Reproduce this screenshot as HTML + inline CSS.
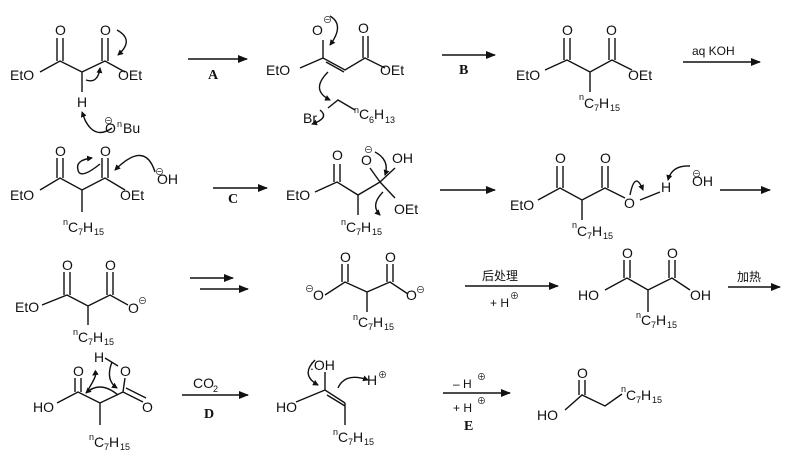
<!DOCTYPE html>
<html><head><meta charset="utf-8"><style>
html,body{margin:0;padding:0;background:#fff;}
svg{display:block}
text{font-family:"Liberation Sans","Noto Sans CJK SC",sans-serif;font-size:14px;fill:#111}
.s{font-size:9px}
.b{font-family:"Liberation Serif",serif;font-weight:bold;font-size:14px}
</style></head><body>
<svg width="793" height="464" viewBox="0 0 793 464" xmlns="http://www.w3.org/2000/svg">
<defs>
<marker id="ah" markerWidth="10" markerHeight="8" refX="9" refY="4" orient="auto" markerUnits="userSpaceOnUse"><path d="M0,0 L10,4 L0,8 Z" fill="#111"/></marker>
<marker id="sh" markerWidth="6" markerHeight="6" refX="5" refY="3" orient="auto" markerUnits="userSpaceOnUse"><path d="M0,0 L6,3 L0,6 Z" fill="#111"/></marker>
</defs>
<g stroke="#111" stroke-width="1.4" fill="none">
<line x1="188" y1="59" x2="247" y2="59" marker-end="url(#ah)"/>
<line x1="442" y1="55" x2="495" y2="55" marker-end="url(#ah)"/>
<line x1="683" y1="62" x2="760" y2="62" marker-end="url(#ah)"/>
<line x1="213" y1="188" x2="267" y2="188" marker-end="url(#ah)"/>
<line x1="440" y1="190" x2="495" y2="190" marker-end="url(#ah)"/>
<line x1="720" y1="190" x2="770" y2="190" marker-end="url(#ah)"/>
<line x1="190" y1="278" x2="233" y2="278" marker-end="url(#ah)"/>
<line x1="200" y1="289" x2="248" y2="289" marker-end="url(#ah)"/>
<line x1="465" y1="286" x2="558" y2="286" marker-end="url(#ah)"/>
<line x1="728" y1="287" x2="780" y2="287" marker-end="url(#ah)"/>
<line x1="182" y1="395" x2="248" y2="395" marker-end="url(#ah)"/>
<line x1="443" y1="393" x2="510" y2="393" marker-end="url(#ah)"/>

<path d="M40,72 L60,61 L82,72 L105,61 L125,72 M82,72 L82,92"/>
<path d="M57,61 V38 M63,61 V38 M102,61 V38 M108,61 V38"/>
<path d="M117,30 Q135,40 118,55" marker-end="url(#sh)"/>
<path d="M86,80 Q98,84 100,68" marker-end="url(#sh)"/>
<path d="M112,128 Q95,140 85,120 L82,112" marker-end="url(#sh)"/>
<path d="M300,68 L323,58 L345,70 L365,58 L385,68 M323,58 V40 M363,58 V36 M368,58 V36 M326,62 L344,72"/>
<path d="M330,16 Q345,25 330,45" marker-end="url(#sh)"/>
<path d="M328,72 Q310,90 330,100" marker-end="url(#sh)"/>
<path d="M328,108 L338,100 L355,110"/>
<path d="M320,110 Q330,118 312,124" marker-end="url(#sh)"/>
<path d="M545,70 L567,60 L590,72 L612,60 L632,70 M590,72 V92 M564,60 V38 M570,60 V38 M609,60 V38 M615,60 V38"/>

<path d="M40,190 L60,178 L82,190 L105,178 L125,190 M82,190 V212 M57,178 V158 M63,178 V158 M102,178 V158 M108,178 V158"/>
<path d="M100,164 Q80,180 78,170 Q75,160 92,158" marker-end="url(#sh)"/>
<path d="M155,172 Q145,140 115,170" marker-end="url(#sh)"/>
<path d="M315,192 L337,182 L358,195 L380,182 L395,198 M358,195 V215 M334,182 V164 M340,182 V164 M380,182 L370,168 M380,182 L395,168"/>
<path d="M375,152 Q390,160 385,175" marker-end="url(#sh)"/>
<path d="M383,192 Q370,205 380,215" marker-end="url(#sh)"/>
<path d="M538,200 L560,188 L582,200 L605,188 L625,198 M582,200 V220 M557,188 V166 M563,188 V166 M602,188 V166 M608,188 V166 M640,200 L660,192"/>
<path d="M630,195 Q635,170 643,190" marker-end="url(#sh)"/>
<path d="M690,166 Q672,165 668,180" marker-end="url(#sh)"/>

<path d="M42,305 L67,295 L88,306 L110,295 L128,305 M88,306 V325 M64,295 V272 M70,295 V272 M107,295 V272 M113,295 V272"/>
<path d="M325,295 L345,282 L367,292 L390,282 L408,294 M367,292 V312 M342,282 V264 M348,282 V264 M387,282 V264 M393,282 V264"/>
<path d="M605,290 L627,278 L648,290 L672,278 L690,290 M648,290 V312 M624,278 V260 M630,278 V260 M669,278 V260 M675,278 V260"/>

<path d="M57,403 L78,392 L100,403 L123,392 L143,402 M126,388 L146,398 M100,403 V425 M75,392 V378 M81,392 V378 M123,392 L125,378 M105,358 L118,366"/>
<path d="M88,390 Q100,370 93,375" marker-end="url(#sh)"/>
<path d="M112,362 Q105,380 117,388" marker-end="url(#sh)"/>
<path d="M118,395 Q100,380 86,393" marker-end="url(#sh)"/>
<path d="M296,402 L325,390 L345,403 M327,395 L345,406 M345,403 V425 M325,390 V372"/>
<path d="M315,360 Q300,375 318,385" marker-end="url(#sh)"/>
<path d="M338,388 Q345,372 368,380" marker-end="url(#sh)"/>
<path d="M565,410 L582,395 L605,406 L622,394 M579,395 V380 M585,395 V380"/>
</g>

<text x="55" y="35">O</text><text x="100" y="35">O</text>
<text x="10" y="80">EtO</text><text x="118" y="80">OEt</text>
<text x="77" y="107">H</text>
<text x="105" y="133">O</text><text x="117" y="127" class="s">n</text><text x="123" y="133">Bu</text>
<text x="104" y="124" class="s">⊖</text>
<text x="208" y="79" class="b">A</text>

<text x="312" y="35">O</text><text x="323" y="23" class="s">⊖</text><text x="358" y="33">O</text>
<text x="266" y="75">EtO</text><text x="380" y="75">OEt</text>
<text x="303" y="123">Br</text><text x="354" y="113" class="s">n</text><text x="359" y="119">C</text><text x="369" y="123" class="s">6</text><text x="374" y="119">H</text><text x="385" y="123" class="s">13</text>
<text x="459" y="74" class="b">B</text>

<text x="562" y="35">O</text><text x="606" y="35">O</text>
<text x="516" y="80">EtO</text><text x="628" y="80">OEt</text>
<text x="579" y="100" class="s">n</text><text x="584" y="108">C</text><text x="594" y="111" class="s">7</text><text x="599" y="108">H</text><text x="610" y="111" class="s">15</text>
<text x="692" y="55" style="font-size:12px">aq KOH</text>

<text x="55" y="156">O</text><text x="100" y="156">O</text>
<text x="10" y="200">EtO</text><text x="120" y="200">OEt</text>
<text x="155" y="175" class="s">⊖</text><text x="157" y="184">OH</text>
<text x="63" y="225" class="s">n</text><text x="68" y="232">C</text><text x="78" y="235" class="s">7</text><text x="83" y="232">H</text><text x="94" y="235" class="s">15</text>
<text x="228" y="203" class="b">C</text>

<text x="332" y="160">O</text><text x="361" y="165">O</text><text x="364" y="153" class="s">⊖</text><text x="392" y="163">OH</text>
<text x="286" y="200">EtO</text><text x="394" y="214">OEt</text>
<text x="341" y="225" class="s">n</text><text x="346" y="232">C</text><text x="356" y="235" class="s">7</text><text x="361" y="232">H</text><text x="372" y="235" class="s">15</text>

<text x="555" y="163">O</text><text x="600" y="163">O</text>
<text x="510" y="210">EtO</text><text x="624" y="208">O</text><text x="661" y="192">H</text>
<text x="692" y="177" class="s">⊖</text><text x="692" y="186">OH</text>
<text x="572" y="228" class="s">n</text><text x="577" y="236">C</text><text x="587" y="239" class="s">7</text><text x="592" y="236">H</text><text x="603" y="239" class="s">15</text>

<text x="62" y="270">O</text><text x="105" y="270">O</text>
<text x="15" y="312">EtO</text><text x="128" y="313">O</text><text x="138" y="304" class="s">⊖</text>
<text x="73" y="335" class="s">n</text><text x="78" y="342">C</text><text x="88" y="345" class="s">7</text><text x="93" y="342">H</text><text x="104" y="345" class="s">15</text>

<text x="340" y="262">O</text><text x="385" y="262">O</text>
<text x="313" y="300">O</text><text x="305" y="292" class="s">⊖</text><text x="406" y="300">O</text><text x="416" y="293" class="s">⊖</text>
<text x="353" y="320" class="s">n</text><text x="358" y="327">C</text><text x="368" y="330" class="s">7</text><text x="373" y="327">H</text><text x="384" y="330" class="s">15</text>
<text x="482" y="280" style="font-size:12px">后处理</text>
<text x="490" y="307" style="font-size:12px">+ H</text><text x="510" y="299" class="s">⊕</text>

<text x="622" y="258">O</text><text x="667" y="258">O</text>
<text x="578" y="300">HO</text><text x="690" y="300">OH</text>
<text x="636" y="318" class="s">n</text><text x="641" y="325">C</text><text x="651" y="328" class="s">7</text><text x="656" y="325">H</text><text x="667" y="328" class="s">15</text>
<text x="737" y="281" style="font-size:12px">加热</text>

<text x="94" y="362">H</text><text x="73" y="376">O</text><text x="120" y="376">O</text><text x="142" y="412">O</text>
<text x="33" y="412">HO</text>
<text x="89" y="440" class="s">n</text><text x="94" y="447">C</text><text x="104" y="450" class="s">7</text><text x="109" y="447">H</text><text x="120" y="450" class="s">15</text>
<text x="193" y="388">CO</text><text x="213" y="392" class="s">2</text>
<text x="204" y="418" class="b">D</text>

<text x="310" y="370">:OH</text><text x="276" y="412">HO</text>
<text x="367" y="385">H</text><text x="378" y="378" class="s">⊕</text>
<text x="333" y="435" class="s">n</text><text x="338" y="442">C</text><text x="348" y="445" class="s">7</text><text x="353" y="442">H</text><text x="364" y="445" class="s">15</text>

<text x="453" y="388" style="font-size:12px">– H</text><text x="477" y="380" class="s">⊕</text>
<text x="453" y="412" style="font-size:12px">+ H</text><text x="477" y="404" class="s">⊕</text>
<text x="464" y="430" class="b">E</text>

<text x="577" y="378">O</text><text x="537" y="420">HO</text>
<text x="621" y="392" class="s">n</text><text x="626" y="400">C</text><text x="636" y="403" class="s">7</text><text x="641" y="400">H</text><text x="652" y="403" class="s">15</text>
</svg>
</body></html>
